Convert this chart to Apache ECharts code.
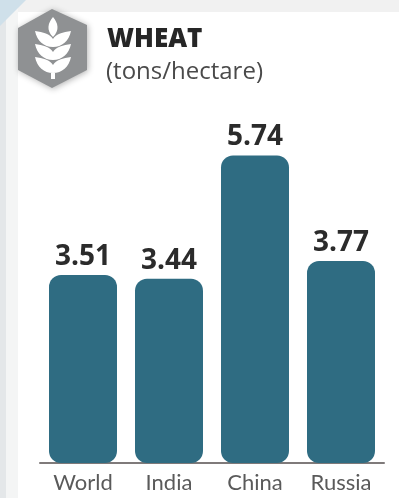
<!DOCTYPE html>
<html>
<head>
<meta charset="utf-8">
<style>html,body{margin:0;padding:0;background:#fff}#chart{width:399px;height:498px}</style>
<script src="https://cdn.jsdelivr.net/npm/echarts@6/dist/echarts.min.js"></script>
</head>
<body>
<div id="chart"></div>
<script>
const categories = ['World', 'India', 'China', 'Russia'];
const yields = [3.51, 3.44, 5.74, 3.77];
const heading = 'WHEAT';
const unitLine = '(tons/hectare)';

// A pair of plump wheat grains pointing up and out; repeated down the ear.
function grainPair(y) {
  return 'M53 ' + (y + 16) + 'C44 ' + (y + 16) + ' 37 ' + (y + 10) + ' 35 ' + y +
         'C43 ' + (y + 1) + ' 50 ' + (y + 3) + ' 53 ' + (y + 8) +
         'C56 ' + (y + 3) + ' 63 ' + (y + 1) + ' 71 ' + y +
         'C69 ' + (y + 10) + ' 62 ' + (y + 16) + ' 53 ' + (y + 16) + 'Z';
}
const earPath = 'M53 17C58 23 60 30 53 37C46 30 48 23 53 17Z' +
  grainPair(31) + grainPair(44) + grainPair(57) + 'M51 70H55V79H51Z';

echarts.graphic.registerShape('wheatEar', echarts.graphic.extendPath(earPath, {}));

const chart = echarts.init(document.getElementById('chart'));
chart.setOption({
  animation: false,
  backgroundColor: '#ffffff',
  grid: { left: 40, right: 15, top: 88, bottom: 35 },
  xAxis: {
    type: 'category',
    data: categories,
    axisTick: { show: false },
    axisLine: { lineStyle: { color: '#7f7a7a', width: 2 } },
    axisLabel: { color: '#5a5a5a', fontFamily: 'Lato', fontSize: 22, margin: 9 }
  },
  yAxis: { type: 'value', min: 0, max: 7, show: false },
  series: [{
    type: 'bar',
    data: yields,
    barWidth: 68,
    itemStyle: { color: '#2f6c82', borderRadius: 12 },
    label: {
      show: true,
      position: 'top',
      distance: 4,
      color: '#2b2b2b',
      fontFamily: 'Open Sans',
      fontWeight: 'bold',
      fontSize: 28,
      formatter: p => p.value.toFixed(2)
    }
  }],
  graphic: [
    { type: 'rect', z: -2, silent: true, shape: { x: 0, y: 0, width: 399, height: 12 }, style: { fill: '#f1f1f1' } },
    { type: 'rect', z: -2, silent: true, shape: { x: 0, y: 0, width: 18, height: 498 }, style: { fill: '#f4f5f5' } },
    { type: 'rect', z: -2, silent: true, shape: { x: 0, y: 0, width: 6, height: 498 }, style: { fill: '#e4e7e9' } },
    { type: 'polygon', z: -1, silent: true, shape: { points: [[0, 0], [26, 0], [0, 26]] }, style: { fill: '#cfe0ea' } },
    {
      type: 'polygon', silent: true,
      shape: { points: [[52, 9], [87, 25], [87, 70], [52, 88], [18, 70], [18, 28]] },
      style: { fill: '#8f9193', shadowBlur: 6, shadowColor: 'rgba(0,0,0,0.3)', shadowOffsetX: 1, shadowOffsetY: 1 }
    },
    { type: 'wheatEar', silent: true, style: { fill: '#ffffff' } },
    { type: 'text', silent: true, x: 107, y: 27, style: { text: heading, fill: '#262626', font: '900 26px "Open Sans"' } },
    { type: 'text', silent: true, x: 106, y: 60, style: { text: unitLine, fill: '#4a4a4a', font: '24px "Open Sans"' } }
  ]
});
</script>
</body>
</html>
